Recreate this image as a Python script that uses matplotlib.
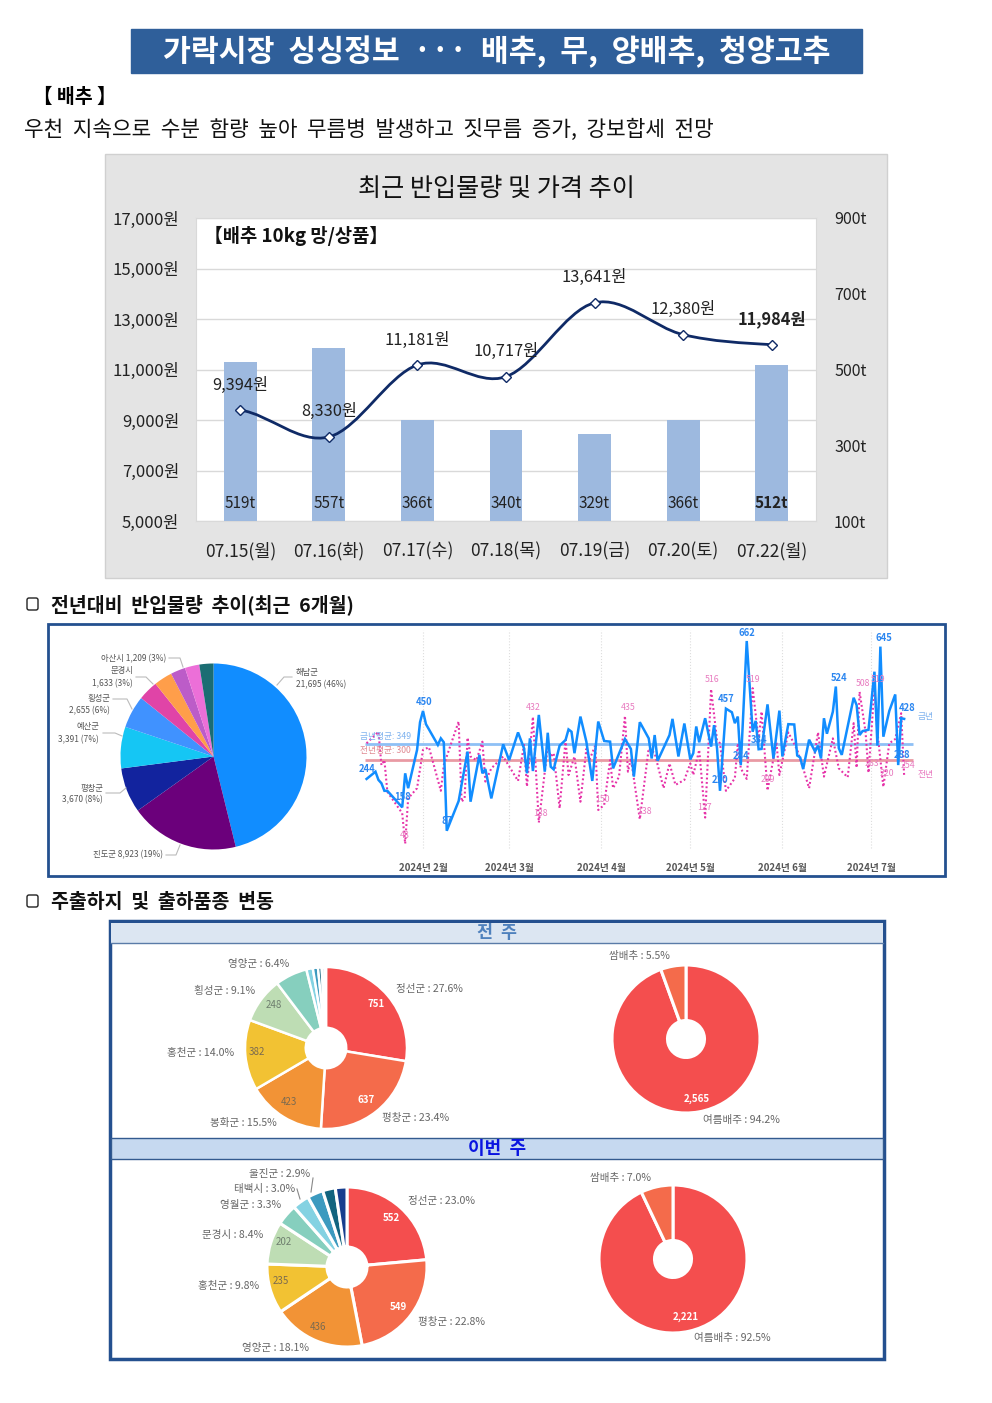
import numpy as np
import matplotlib
matplotlib.use('Agg')
import matplotlib.pyplot as plt
from matplotlib.patches import Rectangle, FancyBboxPatch, PathPatch
from matplotlib.path import Path

plt.rcParams['font.family'] = ['Noto Sans CJK KR', 'DejaVu Sans']

W, H = 992, 1403

# 최근 반입물량 및 가격
dates = ['07.15(월)', '07.16(화)', '07.17(수)', '07.18(목)', '07.19(금)', '07.20(토)', '07.22(월)']
volume = [519, 557, 366, 340, 329, 366, 512]
price = [9394, 8330, 11181, 10717, 13641, 12380, 11984]
price_ticks = [5000, 7000, 9000, 11000, 13000, 15000, 17000]
volume_ticks = [100, 300, 500, 700, 900]

# 산지 비중
area_names = ['해남군', '진도군', '평창군', '예산군', '횡성군', '문경시', '기타1', '아산시', '기타2', '기타3']
area_values = [21695, 8923, 3670, 3391, 2655, 1633, 1500, 1209, 1180, 1150]
area_colors = ['#118DFF', '#6B007B', '#12239E', '#15C6F4', '#4092FF', '#E044A7', '#FF9E4A', '#BC5CC8', '#EC6FD8', '#1B6D73']

# 일별 반입량 (day 0 = 2월 1일)
this_days = [-19, -16, -15, -14, -13, -12, -7, -6, -5, -2, -1, 0, 1, 5, 6, 7, 8, 12, 15, 16, 19, 20, 21, 23, 27, 29,
             32, 34, 35, 36, 37, 39, 41, 42, 43, 44, 46, 48, 49, 50, 51, 53, 55, 57, 59, 61, 63, 64, 68, 70, 71, 73,
             76, 77, 78, 79, 83, 84, 86, 88, 90, 91, 92, 93, 95, 97, 98, 99, 100, 102, 104, 105, 106, 107, 109, 111,
             112, 113, 114, 116, 118, 120, 121, 123, 125, 126, 127, 128, 130, 132, 133, 134, 135, 136, 138, 139, 140,
             141, 145, 146, 147, 148, 150, 152, 153, 154, 155, 157, 159, 160, 161, 162]
this_vals = [244, 266, 241, 231, 208, 208, 158, 261, 216, 332, 416, 450, 410, 347, 367, 355, 87, 177, 327, 175, 317, 261,
             274, 185, 349, 301, 385, 337, 261, 367, 268, 438, 266, 384, 281, 273, 345, 362, 394, 387, 322, 433, 357, 238,
             418, 359, 357, 276, 365, 335, 251, 416, 367, 306, 377, 299, 377, 426, 312, 412, 303, 322, 403, 355, 428, 342,
             407, 337, 208, 457, 446, 413, 433, 286, 662, 387, 420, 334, 335, 470, 306, 451, 312, 410, 409, 315, 309, 274,
             363, 327, 345, 306, 428, 381, 448, 524, 337, 317, 490, 468, 377, 389, 393, 569, 345, 645, 372, 450, 500, 286,
             428, 426]
last_days = [-19, -15, -14, -13, -12, -7, -6, -5, -2, 0, 2, 6, 7, 12, 13, 14, 15, 16, 18, 20, 21, 23, 27, 32, 34, 35, 37,
             39, 42, 43, 44, 46, 48, 49, 51, 53, 55, 56, 58, 59, 61, 63, 64, 66, 68, 69, 70, 73, 76, 78, 81, 83, 85, 88, 90,
             91, 93, 95, 97, 99, 100, 102, 105, 106, 107, 109, 111, 113, 114, 116, 119, 120, 123, 126, 128, 130, 133, 135,
             138, 140, 143, 145, 146, 147, 149, 150, 152, 153, 155, 157, 159, 161, 162]
last_vals = [352, 387, 286, 301, 205, 140, 48, 185, 216, 332, 340, 208, 286, 418, 175, 185, 369, 312, 301, 357, 236, 276,
             312, 238, 347, 221, 432, 112, 342, 312, 322, 155, 362, 256, 312, 175, 335, 301, 345, 150, 165, 301, 216, 251,
             435, 266, 306, 122, 337, 322, 216, 291, 226, 241, 291, 256, 332, 127, 516, 362, 352, 208, 246, 352, 276, 244,
             519, 362, 448, 209, 355, 256, 385, 332, 276, 216, 385, 251, 367, 276, 249, 413, 278, 508, 387, 263, 519, 387,
             220, 352, 365, 443, 254]
month_days = [0, 29, 60, 90, 121, 151]
month_labels = ['2024년 2월', '2024년 3월', '2024년 4월', '2024년 5월', '2024년 6월', '2024년 7월']
avg_this = 349
avg_last = 300

# 주출하지 / 품종
donut_colors = ['#F44E4E', '#F46B4B', '#F29336', '#F2C233', '#BEDDB4', '#86CFBE', '#84D2E2', '#3C9ABF', '#12647F', '#173E8E', '#5B8DB8']
prev_area = [751, 637, 423, 382, 248, 174, 35, 28, 20, 15, 8]
now_area = [552, 549, 436, 235, 202, 100, 80, 75, 60, 55]
prev_kind = [2565, 150]
now_kind = [2221, 168]

fig = plt.figure(figsize=(W / 100, H / 100), dpi=100)


def px_axes(x0, y0, x1, y1, **kw):
    return fig.add_axes([x0 / W, 1 - y1 / H, (x1 - x0) / W, (y1 - y0) / H], **kw)


bg = px_axes(0, 0, W, H, zorder=0)
bg.set_xlim(0, W)
bg.set_ylim(H, 0)
bg.axis('off')
fg = px_axes(0, 0, W, H, zorder=10)
fg.set_xlim(0, W)
fg.set_ylim(H, 0)
fg.axis('off')
fg.patch.set_alpha(0)


def put(x, y, s, size=7, color='#444444', ha='center', va='center', **kw):
    fg.text(x, y, s, fontsize=size, color=color, ha=ha, va=va, **kw)


def pie_at(cx, cy, r, values, colors, hole=0.0, gap=0.0):
    ax = px_axes(cx - r, cy - r, cx + r, cy + r, zorder=5)
    wp = {'edgecolor': 'white', 'linewidth': gap, 'joinstyle': 'round'}
    if hole > 0:
        wp['width'] = 1 - hole
    ax.pie(values, colors=colors, startangle=90, counterclock=False, radius=1, wedgeprops=wp)
    ax.set_xlim(-1, 1)
    ax.set_ylim(-1, 1)
    ax.axis('off')
    return ax


# 제목
bg.add_patch(Rectangle((131, 29), 731, 44, color='#2F5F9A'))
put(497, 52, '가락시장  싱싱정보  ···  배추,  무,  양배추,  청양고추', size=21.8, color='white', fontweight='bold')
put(33, 97, '【 배추 】', size=14, color='black', ha='left', fontweight='bold')
put(24, 130, '우천  지속으로  수분  함량  높아  무름병  발생하고  짓무름  증가,  강보합세  전망', size=15.35, color='#111111', ha='left')

# 반입물량 및 가격 차트
bg.add_patch(Rectangle((105, 154), 782, 424, facecolor='#E4E4E4', edgecolor='#D0D0D0', lw=1))
put(496, 189, '최근 반입물량 및 가격 추이', size=18.1, color='#111111')

ax_price = px_axes(196, 218, 816, 521, zorder=3)
x = np.arange(len(dates))
ax_price.set_xlim(-0.5, len(dates) - 0.5)
ax_price.set_ylim(5000, 17000)
ax_price.set_yticks(price_ticks)
ax_price.set_yticklabels([f'{v:,}원' for v in price_ticks], fontsize=12, color='#222222')
ax_price.set_xticks(x)
ax_price.set_xticklabels(dates, fontsize=12.5, color='#222222')
ax_price.tick_params(length=0, pad=12, axis='y')
ax_price.tick_params(length=0, pad=15, axis='x')
ax_price.grid(axis='y', color='#D9D9D9', lw=1)
ax_price.set_axisbelow(True)
for s in ax_price.spines.values():
    s.set_color('#D9D9D9')

ax_vol = ax_price.twinx()
ax_vol.set_ylim(100, 900)
ax_vol.bar(x, volume, bottom=0, width=0.37, color='#9DB9DF')
ax_vol.set_yticks(volume_ticks)
ax_vol.set_yticklabels([f'{v}t' for v in volume_ticks], fontsize=11.5, color='#222222')
ax_vol.tick_params(length=0, pad=13)
for s in ax_vol.spines.values():
    s.set_visible(False)
for i, v in enumerate(volume):
    ax_vol.text(i, 147, f'{v}t', ha='center', va='center', fontsize=11, color='#222222',
                fontweight='bold' if i == len(volume) - 1 else 'normal')

ax_line = ax_price.twinx()
ax_line.set_ylim(5000, 17000)
ax_line.set_yticks([])
for s in ax_line.spines.values():
    s.set_visible(False)
# 엑셀 스무딩처럼 곡선으로 연결
verts = [(x[0], price[0])]
codes = [Path.MOVETO]
p = np.array(price, dtype=float)
for i in range(len(p) - 1):
    p0 = p[max(i - 1, 0)]
    p3 = p[min(i + 2, len(p) - 1)]
    verts += [(i + 1 / 3, p[i] + (p[i + 1] - p0) / 6), (i + 2 / 3, p[i + 1] - (p3 - p[i]) / 6), (i + 1, p[i + 1])]
    codes += [Path.CURVE4] * 3
ax_line.add_patch(PathPatch(Path(verts, codes), fill=False, edgecolor='#0F2A66', lw=2))
ax_line.plot(x, price, ls='none', marker='D', ms=5, mfc='white', mec='#0F2A66', mew=1)
for i, v in enumerate(price):
    last = i == len(price) - 1
    ax_line.annotate(f'{v:,}원', (i, v), xytext=(0, 25), textcoords='offset pixels',
                     ha='center', va='center', fontsize=11.8, color='#222222', fontweight='bold' if last else 'normal')
put(204, 236, '【배추 10kg 망/상품】', size=13.5, color='#111111', ha='left', fontweight='bold')


def checkbox(y):
    bg.add_patch(FancyBboxPatch((27, y - 6), 11, 12, boxstyle='round,pad=0,rounding_size=2', facecolor='white',
                                edgecolor='#222222', lw=1))


checkbox(604)
put(51, 605, '전년대비  반입물량  추이(최근  6개월)', size=14, color='#111111', ha='left', fontweight='bold')
checkbox(901)
put(51, 902, '주출하지  및  출하품종  변동', size=14, color='#111111', ha='left', fontweight='bold')

# 가운데 박스
bg.add_patch(Rectangle((48, 624), 897, 252, facecolor='white', edgecolor='#24508F', lw=2))
pie_at(213.5, 756.5, 93, area_values, area_colors, gap=0)

pie_labels = [(296, 673, '해남군', 'left'), (296, 685, '21,695 (46%)', 'left'),
              (163, 855, '진도군 8,923 (19%)', 'right'),
              (103, 788, '평창군', 'right'), (103, 800, '3,670 (8%)', 'right'),
              (99, 727, '예산군', 'right'), (99, 740, '3,391 (7%)', 'right'),
              (110, 698, '횡성군', 'right'), (110, 711, '2,655 (6%)', 'right'),
              (133, 671, '문경시', 'right'), (133, 684, '1,633 (3%)', 'right'),
              (166, 659, '아산시 1,209 (3%)', 'right')]
for lx, ly, s, ha in pie_labels:
    put(lx, ly, s, size=6, color='#555555', ha=ha)
leaders = [([277, 284, 292], [685, 677, 677]), ([166, 176, 180], [855, 855, 845]), ([106, 120, 126], [793, 793, 788]),
           ([103, 115, 122], [733, 733, 736]), ([113, 127, 132], [699, 699, 709]), ([136, 146, 153], [677, 677, 684]),
           ([169, 180, 183], [658, 658, 667])]
for lx, ly in leaders:
    fg.plot(lx, ly, color='#BBBBBB', lw=0.8)

ax_days = px_axes(355, 630, 915, 860, zorder=5)
ax_days.set_xlim((355 - 423) / 2.97, (915 - 423) / 2.97)
ax_days.set_ylim(662 - 219 / 0.33, 662 + 11 / 0.33)
ax_days.axis('off')
ax_days.vlines(month_days, 662 - 207 / 0.33, 662 + 11 / 0.33, color='#DDDDDD', lw=0.8, ls=':')
ax_days.hlines(avg_this, -19.5, 165, color='#8EC0F5', lw=2)
ax_days.hlines(avg_last, -19.5, 165, color='#E99AA4', lw=2)
ax_days.plot(last_days, last_vals, color='#E632A8', lw=1.5, ls=(0, (0.9, 1.2)))
ax_days.plot(this_days, this_vals, color='#118DFF', lw=1.8, solid_joinstyle='miter')

for d, lab in zip(month_days, month_labels):
    put(423 + 2.97 * d, 868, lab, size=7, color='#555555', fontweight='bold')
put(360, 736, '금년평균: 349', size=6.3, color='#7FB2EE', ha='left')
put(360, 751, '전년평균: 300', size=6.3, color='#E08A92', ha='left')
put(926, 717, '금년', size=6.3, color='#7FB2EE')
put(926, 774, '전년', size=6.3, color='#E878BE')

blue_labels = [(367, 769, '244'), (403, 797, '158'), (424, 702, '450'), (447, 821, '87'), (726, 699, '457'), (747, 633, '662'),
               (839, 678, '524'), (884, 638, '645'), (907, 708, '428'), (720, 780, '210'), (741, 756, '284'),
               (759, 740, '334'), (902, 755, '288')]
pink_labels = [(533, 708, '432'), (628, 707, '435'), (712, 680, '516'), (753, 679, '519'), (863, 683, '508'), (878, 679, '519'),
               (405, 836, '48'), (540, 814, '138'), (602, 800, '150'), (644, 811, '138'), (705, 808, '127'), (768, 780, '209'),
               (872, 763, '263'), (887, 774, '220'), (908, 766, '254')]
for lx, ly, s in blue_labels:
    put(lx, ly, s, size=6.8, color='#2B86F0', fontweight='bold')
for lx, ly, s in pink_labels:
    put(lx, ly, s, size=6.3, color='#E87CC0')

# 아래 박스
bg.add_patch(Rectangle((110, 921), 774, 438, facecolor='white', edgecolor='#24508F', lw=2.5))
bg.add_patch(Rectangle((111, 923), 772, 20, facecolor='#DCE6F2', edgecolor='none'))
bg.plot([111, 883], [943, 943], color='#5A7BA8', lw=1)
bg.add_patch(Rectangle((111, 1138), 772, 21, facecolor='#C6D9F0', edgecolor='#335A8F', lw=1))
put(497, 933, '전  주', size=12.5, color='#4F81BD', fontweight='bold')
put(497, 1149, '이번  주', size=13, color='#0A14E0', fontweight='bold')

pie_at(326, 1048, 81, prev_area, donut_colors, hole=0.25, gap=1.8)
pie_at(686, 1039, 74, prev_kind, ['#F44E4E', '#F46B4B'], hole=0.25, gap=2.2)
pie_at(347, 1267, 80, now_area, donut_colors[:10], hole=0.25, gap=2.2)
pie_at(673, 1259, 74, now_kind, ['#F44E4E', '#F46B4B'], hole=0.25, gap=2.2)

donut_labels = [(429, 989, '정선군 : 27.6%'), (416, 1118, '평창군 : 23.4%'), (243, 1123, '봉화군 : 15.5%'), (201, 1053, '홍천군 : 14.0%'),
                (225, 991, '횡성군 : 9.1%'), (259, 964, '영양군 : 6.4%'), (639, 956, '쌈배추 : 5.5%'), (741, 1120, '여름배주 : 94.2%'),
                (442, 1201, '정선군 : 23.0%'), (451, 1322, '평창군 : 22.8%'), (275, 1348, '영양군 : 18.1%'), (229, 1286, '홍천군 : 9.8%'),
                (233, 1235, '문경시 : 8.4%'), (251, 1205, '영월군 : 3.3%'), (265, 1189, '태백시 : 3.0%'), (280, 1174, '울진군 : 2.9%'),
                (621, 1178, '쌈배추 : 7.0%'), (732, 1338, '여름배추 : 92.5%')]
for lx, ly, s in donut_labels:
    put(lx, ly, s, size=7.6, color='#666666')
fg.plot([313, 311], [1178, 1192], color='#888888', lw=0.8)
fg.plot([297, 300], [1189, 1199], color='#888888', lw=0.8)

inner_labels = [(376, 1004, '751', 'white'), (366, 1100, '637', 'white'), (289, 1102, '423', '#7A6A50'), (257, 1052, '382', '#7A6A50'),
                (274, 1005, '248', '#6F7F6F'), (697, 1099, '2,565', 'white'), (391, 1218, '552', 'white'), (398, 1307, '549', 'white'),
                (318, 1327, '436', '#7A6A50'), (281, 1281, '235', '#7A6A50'), (284, 1242, '202', '#6F7F6F'), (686, 1317, '2,221', 'white')]
for lx, ly, s, c in inner_labels:
    put(lx, ly, s, size=7, color=c, fontweight='bold' if c == 'white' else 'normal')

fig.savefig('out.png', dpi=100)
